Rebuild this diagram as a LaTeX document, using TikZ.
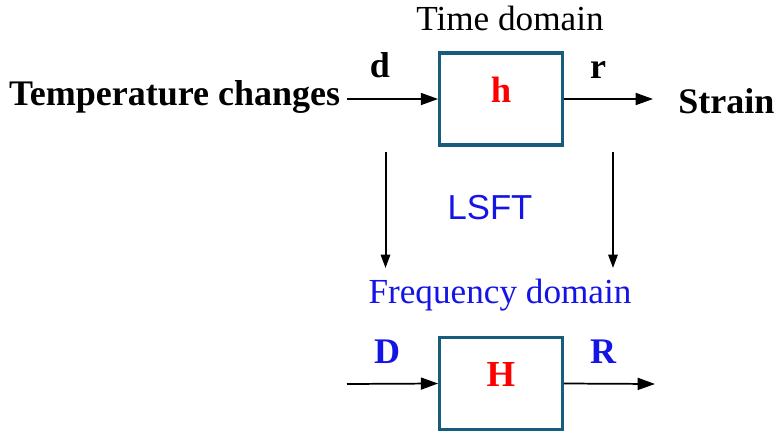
\documentclass[tikz,border=0pt]{standalone}
\usepackage{fontspec}
\setmainfont{Liberation Serif}
\setsansfont{Liberation Sans}
\usetikzlibrary{arrows.meta}

\definecolor{boxline}{RGB}{24,92,124}
\definecolor{fblue}{RGB}{20,20,230}

\begin{document}
\begin{tikzpicture}[x=0.75pt,y=-0.75pt]

\tikzset{block/.style = {draw=boxline, line width=2.3pt, inner sep=0pt,
  minimum width=92pt, text height=37pt, text depth=32pt,
  font=\fontsize{27.5}{30}\selectfont\bfseries, text=red}}
\tikzset{lbl/.style = {inner sep=0pt, font=\fontsize{27}{30}\selectfont\bfseries}}
\tikzset{title/.style = {inner sep=0pt, font=\fontsize{26.4}{30}\selectfont}}
\tikzset{edge/.style = {-{Triangle[length=13pt,width=9pt]}, line width=1.3pt}}
\tikzset{down/.style = {-{Triangle[length=10pt,width=7pt]}, line width=1.5pt}}

\useasboundingbox (0,0) rectangle (776,436);

%blocks
\node[block] (h) at (501,99) {h};
\node[block] (H) at (501,383.5) {H};
%labels
\node[title, anchor=base] (time) at (510,30) {Time domain};
\node[title, anchor=base, text=fblue] (freq) at (500,303) {Frequency domain};
\node[title, font=\fontsize{26}{30}\selectfont\sffamily, text=fblue] (lsft) at (490,207.5) {LSFT};
\node[lbl, anchor=base east, inner xsep=5pt] (temp) at (347,105) {Temperature changes};
\node[lbl, anchor=base west] (strain) at (678,113) {Strain};
\node[lbl, anchor=base] (d) at (380,77) {d};
\node[lbl, anchor=base] (r) at (598,78) {r};
\node[lbl, anchor=base, text=fblue] (D) at (387,363) {D};
\node[lbl, anchor=base, text=fblue] (R) at (603,363) {R};
%free ends
\coordinate (Din) at (347,384);
\coordinate (Rout) at (655,384);
\coordinate (ltop) at (385.5,152);
\coordinate (lbot) at (385.5,268);
\coordinate (rtop) at (613,152);
\coordinate (rbot) at (613,268);
%edges
\draw[edge] (temp.east |- h.west) -- (h.west);
\draw[edge] (h.east) -- ([xshift=-18.75pt]strain.west |- h.east);
\draw[edge] (Din) -- (H.west);
\draw[edge] (H.east) -- (Rout);
\draw[down] (ltop) -- (lbot);
\draw[down] (rtop) -- (rbot);

\end{tikzpicture}
\end{document}
